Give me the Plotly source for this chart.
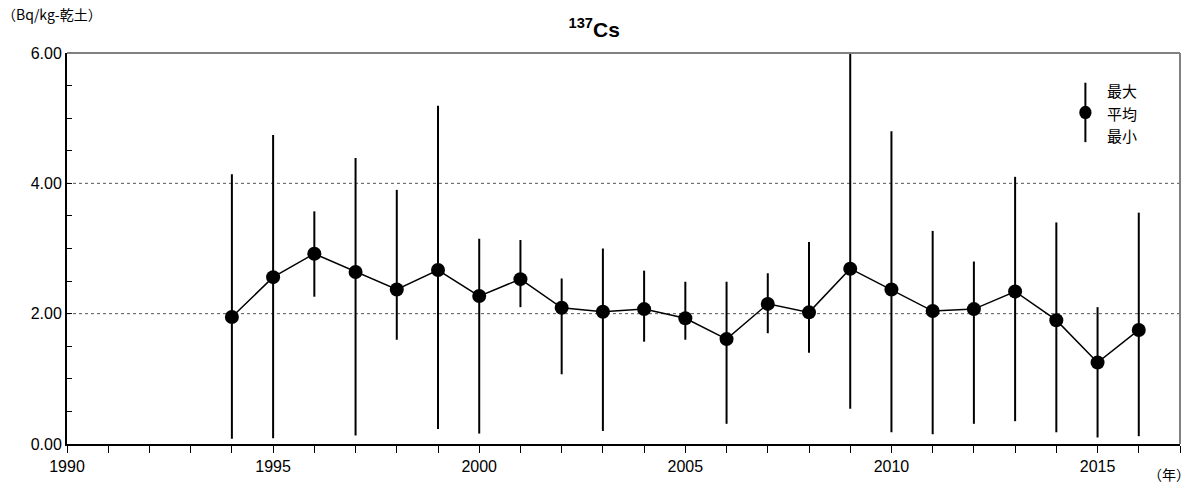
import plotly.graph_objects as go

years = [1994, 1995, 1996, 1997, 1998, 1999, 2000, 2001, 2002, 2003, 2004,
         2005, 2006, 2007, 2008, 2009, 2010, 2011, 2012, 2013, 2014, 2015, 2016]
mean_vals = [1.95, 2.56, 2.92, 2.64, 2.37, 2.67, 2.27, 2.53, 2.09, 2.03, 2.07,
             1.93, 1.61, 2.15, 2.02, 2.69, 2.37, 2.04, 2.07, 2.34, 1.90, 1.25, 1.75]
max_vals = [4.14, 4.74, 3.57, 4.39, 3.90, 5.19, 3.15, 3.13, 2.54, 3.00, 2.66,
            2.49, 2.49, 2.62, 3.10, 6.00, 4.80, 3.27, 2.80, 4.10, 3.40, 2.10, 3.55]
min_vals = [0.08, 0.09, 2.26, 0.13, 1.60, 0.23, 0.16, 2.10, 1.07, 0.20, 1.57,
            1.60, 0.31, 1.70, 1.40, 0.54, 0.18, 0.15, 0.31, 0.35, 0.18, 0.10, 0.12]
y_ticks = [0, 2, 4, 6]
y_tick_labels = ["0.00", "2.00", "4.00", "6.00"]
x_ticks = [1990, 1995, 2000, 2005, 2010, 2015]

FONT = "Liberation Sans, Arial, Noto Sans CJK JP, sans-serif"
JFONT = "Noto Sans CJK JP, sans-serif"

err_plus = [mx - m for mx, m in zip(max_vals, mean_vals)]
err_minus = [m - mn for mn, m in zip(min_vals, mean_vals)]

fig = go.Figure()
fig.add_trace(go.Scatter(
    x=years, y=mean_vals, mode="lines+markers",
    line=dict(color="black", width=1.5),
    marker=dict(color="black", size=14),
    error_y=dict(type="data", symmetric=False, array=err_plus, arrayminus=err_minus,
                 color="black", thickness=2, width=0),
    showlegend=False, cliponaxis=False,
))

# dotted gridlines at 2 and 4
for gv in [2, 4]:
    fig.add_shape(type="line", xref="paper", yref="y", x0=0, x1=1, y0=gv, y1=gv,
                  line=dict(color="#555555", width=1, dash="dot"), layer="below")
# top and right frame
fig.add_shape(type="line", xref="paper", yref="paper", x0=0, x1=1, y0=1, y1=1,
              line=dict(color="#808080", width=2))
fig.add_shape(type="line", xref="paper", yref="paper", x0=1, x1=1, y0=0, y1=1,
              line=dict(color="#808080", width=2))

# legend symbol (manual)
fig.add_shape(type="line", xref="paper", yref="paper", x0=0.915, x1=0.915, y0=0.772, y1=0.924,
              line=dict(color="black", width=2))
fig.add_shape(type="circle", xref="paper", yref="paper", x0=0.9095, x1=0.9205, y0=0.831, y1=0.865,
              fillcolor="black", line=dict(color="black", width=0))
for txt, yy in [("最大", 0.903), ("平均", 0.846), ("最小", 0.790)]:
    fig.add_annotation(text=txt, xref="paper", yref="paper", x=0.948, y=yy,
                       showarrow=False, font=dict(family=JFONT, size=15, color="black"),
                       xanchor="center", yanchor="middle")

# unit labels
fig.add_annotation(text="（Bq/kg-乾土）", xref="paper", yref="paper", x=-0.06, y=1.068,
                   xanchor="left", yanchor="bottom", showarrow=False,
                   font=dict(family=JFONT, size=14, color="black"))
fig.add_annotation(text="（年）", xref="paper", yref="paper", x=1.011, y=-0.045,
                   xanchor="right", yanchor="top", showarrow=False,
                   font=dict(family=JFONT, size=14, color="black"))

fig.update_layout(
    width=1192, height=488,
    margin=dict(l=67, r=12, t=53, b=44),
    plot_bgcolor="white", paper_bgcolor="white",
    font=dict(family=FONT, size=16, color="black"),
    title=dict(text="<b><sup>137</sup>Cs</b>", x=0.4985, xanchor="center",
               y=0.925, yanchor="bottom", font=dict(family=FONT, size=21, color="black")),
    xaxis=dict(range=[1990, 2017], tickmode="array", tickvals=x_ticks,
               ticks="outside", ticklen=7, tickcolor="black", tickwidth=1,
               showline=True, linecolor="black", linewidth=2, showgrid=False,
               zeroline=False,
               minor=dict(dtick=1, tick0=1990, ticks="outside", ticklen=7,
                          tickcolor="black", tickwidth=1, showgrid=False),
               tickfont=dict(family=FONT, size=16)),
    yaxis=dict(range=[0, 6], tickmode="array", tickvals=y_ticks, ticktext=y_tick_labels,
               ticks="inside", ticklen=5, tickcolor="black", tickwidth=1,
               showline=True, linecolor="black", linewidth=2, showgrid=False,
               zeroline=False,
               minor=dict(dtick=0.5, tick0=0, ticks="inside", ticklen=5,
                          tickcolor="black", tickwidth=1, showgrid=False),
               tickfont=dict(family=FONT, size=16)),
)

fig.write_html("out.html", config={"displayModeBar": False},
               post_script="document.body.style.margin='0';")
